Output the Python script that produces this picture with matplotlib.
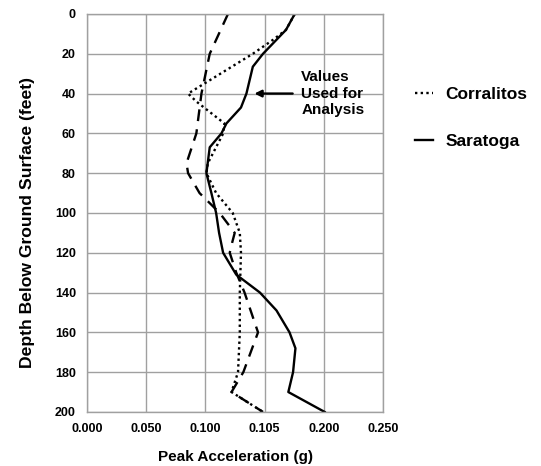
import matplotlib
matplotlib.use("Agg")
import matplotlib.pyplot as plt

plt.rcParams['font.family'] = ['Liberation Sans', 'DejaVu Sans']

# Data (depth in feet, peak acceleration in g)
sara_depth = [0, 8, 20, 26.5, 40, 47, 55, 60, 67, 80, 90, 100, 110, 120, 131, 140, 149, 160, 168, 180, 190, 200]
sara_acc = [0.1754, 0.168, 0.1486, 0.140, 0.1346, 0.130, 0.1177, 0.1135, 0.1036, 0.1008, 0.105, 0.109, 0.1115,
            0.1149, 0.126, 0.146, 0.160, 0.171, 0.176, 0.174, 0.170, 0.2007]

corr_depth = [0, 8, 13, 20, 40, 44, 55, 60, 75, 80, 90, 100, 110, 120, 140, 160, 180, 190, 200]
corr_acc = [0.1754, 0.168, 0.157, 0.140, 0.0853, 0.0923, 0.116, 0.115, 0.102, 0.1008, 0.109, 0.123, 0.129,
            0.130, 0.129, 0.129, 0.1275, 0.122, 0.1486]

dash_depth = [0, 20, 40, 60, 75, 80, 90, 100, 110, 115, 120, 130, 140, 160, 180, 190, 200]
dash_acc = [0.119, 0.1036, 0.0966, 0.0923, 0.084, 0.0853, 0.095, 0.112, 0.1247, 0.1225, 0.1205, 0.126, 0.133,
            0.1444, 0.132, 0.122, 0.1486]

x_ticks = [0.0, 0.05, 0.10, 0.15, 0.20, 0.25]
x_tick_labels = ["0.000", "0.050", "0.100", "0.105", "0.200", "0.250"]
y_ticks = [0, 20, 40, 60, 80, 100, 120, 140, 160, 180, 200]

fig = plt.figure(figsize=(5.41, 4.66), dpi=100)
ax = fig.add_axes([0.161, 0.116, 0.547, 0.854])

ax.plot(dash_acc, dash_depth, color='black', lw=1.7, linestyle=(0, (5, 3.5)))
lc, = ax.plot(corr_acc, corr_depth, color='black', lw=1.7, linestyle=(0, (1, 1.4)), label='Corralitos')
ls, = ax.plot(sara_acc, sara_depth, color='black', lw=1.7, linestyle='-', label='Saratoga')

ax.set_xlim(0, 0.25)
ax.set_ylim(200, 0)
ax.set_xticks(x_ticks)
ax.set_xticklabels(x_tick_labels, fontweight='bold', fontsize=9)
ax.set_yticks(y_ticks)
ax.set_yticklabels([str(v) for v in y_ticks], fontweight='bold', fontsize=9)
ax.tick_params(length=0, pad=8)
ax.grid(True, color='#a0a0a0', lw=1)
ax.set_axisbelow(True)
for s in ax.spines.values():
    s.set_color('#a0a0a0')
    s.set_linewidth(1)

ax.set_xlabel('Peak Acceleration (g)', fontweight='bold', fontsize=11, labelpad=11)
ax.set_ylabel('Depth Below Ground Surface (feet)', fontweight='bold', fontsize=12.6)
ax.yaxis.set_label_coords(-0.176, 0.477)

ax.annotate('', xy=(0.139, 40), xytext=(0.176, 40),
            arrowprops=dict(arrowstyle='-|>', color='black', lw=1.7, mutation_scale=10))
ax.text(0.181, 40, 'Values\nUsed for\nAnalysis', fontsize=11, fontweight='bold', va='center', ha='left',
        linespacing=1.25)

fig.legend(handles=[lc, ls], loc='upper left', bbox_to_anchor=(0.767, 0.813), frameon=False,
           borderpad=0, borderaxespad=0, handlelength=1.05, handletextpad=0.7, labelspacing=1.81,
           prop={'size': 12.5, 'weight': 'bold'})

fig.savefig('out.png', dpi=100)
